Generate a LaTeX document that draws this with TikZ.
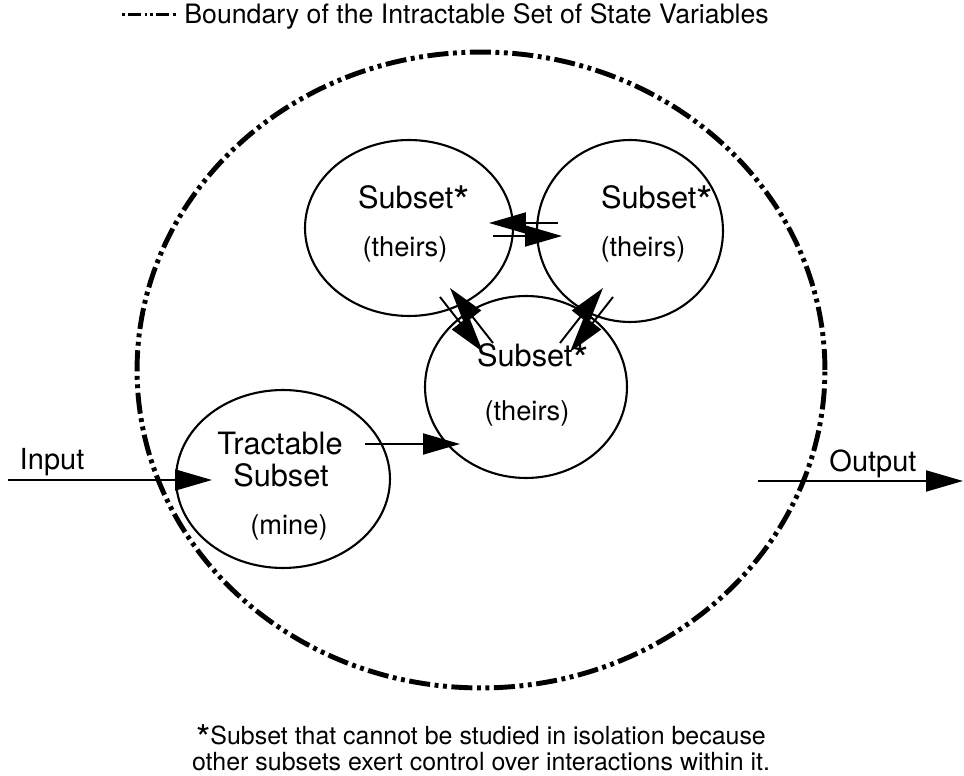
\documentclass[tikz,border=0pt]{standalone}
\usepackage{fontspec}
\setmainfont{TeX Gyre Heros}
\usetikzlibrary{arrows.meta,shapes.geometric}
\newcommand\myast{{\fontsize{24}{24}\selectfont\raisebox{-4.5pt}{*}}}
\newcommand\noteast{{\fontsize{21}{21}\selectfont\raisebox{-4pt}{\smash{*}}}}
\begin{document}
\begin{tikzpicture}[x=0.02cm,y=-0.02cm,
  bubble/.style={draw, ellipse, line width=1.2pt, inner sep=0pt},
  boundary/.style={draw, ellipse, inner sep=0pt, line width=2.8pt,
     dash pattern=on 12pt off 2.6pt on 2.2pt off 2.6pt on 2.2pt off 2.6pt},
  legendline/.style={line width=1.8pt,
     dash pattern=on 1.5pt off 2pt on 7.5pt off 2pt on 1.5pt off 1.5pt on 1.5pt off 2pt on 7.5pt off 2pt on 1.5pt off 2pt},
  bigtxt/.style={font=\fontsize{17.5}{20}\selectfont, inner sep=0pt, anchor=base},
  smalltxt/.style={font=\fontsize{15.5}{18}\selectfont, inner sep=0pt, anchor=base},
  notetxt/.style={font=\fontsize{14.2}{14.5}\selectfont, inner sep=0pt, anchor=base},
  flow/.style={line width=1.1pt, -{Triangle[length=0.74cm,width=0.42cm]}},
]
\useasboundingbox (0,0) rectangle (964,776);

% legend
\coordinate (lg0) at (122,14.5);
\coordinate (lg1) at (178,14.5);
\draw[legendline] (lg0) -- (lg1);
\node[notetxt, font=\fontsize{15.2}{17}\selectfont, anchor=base west] (lgt) at (184,23.5)
  {Boundary of the Intractable Set of State Variables};

% boundary
\node[boundary, minimum width=13.76cm, minimum height=12.72cm] (bound) at (481,370) {};

% subsets
\node[bubble, minimum width=4.16cm, minimum height=3.52cm] (tl) at (409,228) {};
\node[bubble, minimum width=3.72cm, minimum height=3.64cm] (tr) at (630,231) {};
\node[bubble, minimum width=4.04cm, minimum height=3.64cm] (bm) at (526,387) {};
\node[bubble, minimum width=4.28cm, minimum height=3.56cm] (tc) at (283,479) {};

\node[bigtxt] (tlA) at (414,209) {Subset\myast};
\node[smalltxt] (tlB) at (405,257) {(theirs)};
\node[bigtxt] (trA) at (657,209) {Subset\myast};
\node[smalltxt] (trB) at (643,257) {(theirs)};
\node[bigtxt] (bmA) at (533,367) {Subset\myast};
\node[smalltxt] (bmB) at (527,421) {(theirs)};
\node[bigtxt] (tcA) at (280,455) {Tractable};
\node[bigtxt] (tcB) at (281,487) {Subset};
\node[smalltxt] (tcC) at (289,535) {(mine)};

% input / output
\coordinate (in0) at (8,480);
\coordinate (in1) at (212,480);
\draw[flow] (in0) -- (in1);
\node[bigtxt, font=\fontsize{16.5}{19}\selectfont] (inl) at (52,470) {Input};
\coordinate (out0) at (758,481);
\coordinate (out1) at (963,481);
\draw[flow] (out0) -- (out1);
\node[bigtxt, font=\fontsize{16.5}{19}\selectfont] (outl) at (873,472) {Output};

% tractable -> bottom subset
\coordinate (tb0) at (365,444);
\coordinate (tb1) at (460,444);
\draw[flow] (tb0) -- (tb1);

% top-left <-> top-right
\coordinate (h1a) at (558,223);
\coordinate (h1b) at (489,223);
\coordinate (h2a) at (493,236);
\coordinate (h2b) at (562,236);
\draw[flow] (h1a) -- (h1b);
\draw[flow] (h2a) -- (h2b);

% top-left <-> bottom
\coordinate (d1a) at (493,343);
\coordinate (d1b) at (450,288);
\coordinate (d2a) at (440,297);
\coordinate (d2b) at (483,352);
\draw[flow] (d1a) -- (d1b);
\draw[flow] (d2a) -- (d2b);

% top-right <-> bottom
\coordinate (e1a) at (560,343);
\coordinate (e1b) at (603,288);
\coordinate (e2a) at (613,297);
\coordinate (e2b) at (570,352);
\draw[flow] (e1a) -- (e1b);
\draw[flow] (e2a) -- (e2b);

% footnote
\node[notetxt, align=center] (note) at (481,770)
  {\noteast Subset that cannot be studied in isolation because\\
   other subsets exert control over interactions within it.};
\end{tikzpicture}
\end{document}
